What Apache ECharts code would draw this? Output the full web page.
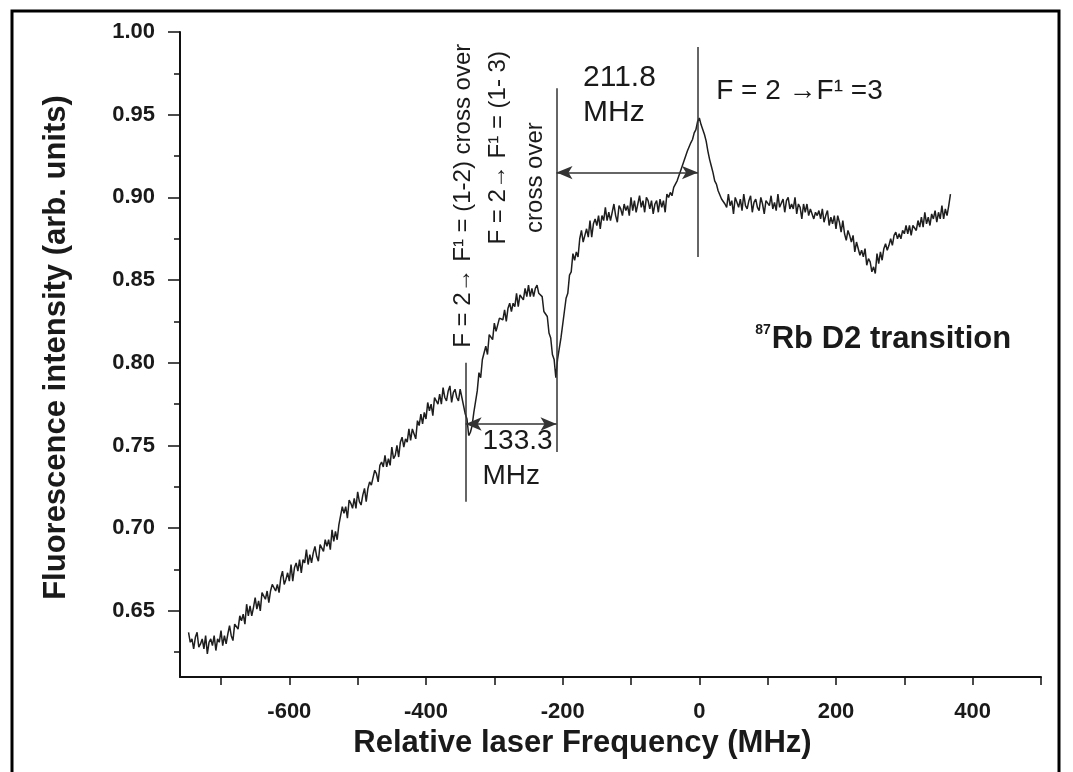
<!DOCTYPE html>
<html>
<head>
<meta charset="utf-8">
<script src="https://cdn.jsdelivr.net/npm/echarts@6/dist/echarts.min.js"></script>
<style>
  html, body { margin: 0; padding: 0; background: #fff; }
  #chart { width: 1073px; height: 772px; }
</style>
</head>
<body>
<div id="chart"></div>
<script>
// ---------- data (frequency MHz, fluorescence a.u.) ----------
const wingData = [
  [-747.5,0.637],[-745,0.631],[-742.5,0.633],[-740,0.627],[-737.5,0.634],[-735,0.637],[-732.5,0.628],[-730,0.630],
  [-727.5,0.633],[-725,0.627],[-722.5,0.635],[-720,0.624],[-717.5,0.631],[-715,0.633],[-712.5,0.629],[-710,0.635],
  [-707.5,0.626],[-705,0.633],[-702.5,0.631],[-700,0.638],[-697.5,0.629],[-695,0.635],[-692.5,0.630],[-690,0.636],
  [-687.5,0.641],[-685,0.635],[-682.5,0.632],[-680,0.642],[-677.5,0.641],[-675,0.639],[-672.5,0.647],[-670,0.644],
  [-667.5,0.648],[-665,0.642],[-662.5,0.654],[-660,0.647],[-657.5,0.653],[-655,0.647],[-652.5,0.652],[-650,0.658],
  [-647.5,0.651],[-645,0.656],[-642.5,0.650],[-640,0.661],[-637.5,0.660],[-635,0.657],[-632.5,0.662],[-630,0.655],
  [-627.5,0.662],[-625,0.666],[-622.5,0.667],[-620,0.662],[-617.5,0.666],[-615,0.661],[-612.5,0.670],[-610,0.674],
  [-607.5,0.666],[-605,0.669],[-602.5,0.673],[-600,0.668],[-597.5,0.678],[-595,0.668],[-592.5,0.676],[-590,0.679],
  [-587.5,0.674],[-585,0.681],[-582.5,0.673],[-580,0.681],[-577.5,0.679],[-575,0.687],[-572.5,0.678],[-570,0.684],
  [-567.5,0.679],[-565,0.685],[-562.5,0.689],[-560,0.683],[-557.5,0.680],[-555,0.690],[-552.5,0.689],[-550,0.686],
  [-547.5,0.693],[-545,0.689],[-542.5,0.693],[-540,0.687],[-537.5,0.699],[-535,0.692],[-532.5,0.698],[-530,0.693],
  [-527.5,0.702]
];
const riseData = [
  [-525,0.703],[-522.5,0.713],[-520,0.709],[-517.5,0.713],[-515,0.706],[-512.5,0.717],[-510,0.715],[-507.5,0.712],
  [-505,0.718],[-502.5,0.712],[-500,0.722],[-497.5,0.716],[-495,0.714],[-492.5,0.720],[-490,0.724],[-487.5,0.716],
  [-485,0.724],[-482.5,0.728],[-480,0.726],[-477.5,0.726],[-475,0.735],[-472.5,0.733],[-470,0.728],[-467.5,0.738],
  [-465,0.740],[-462.5,0.737],[-460,0.744],[-457.5,0.737],[-455,0.742],[-452.5,0.738],[-450,0.749],[-447.5,0.742],
  [-445,0.744],[-442.5,0.750],[-440,0.743],[-437.5,0.752],[-435,0.755],[-432.5,0.749],[-430,0.754],[-427.5,0.752],
  [-425,0.760],[-422.5,0.753],[-420,0.760],[-417.5,0.760],[-415,0.754],[-412.5,0.765],[-410,0.762],[-407.5,0.769],
  [-405,0.763],[-402.5,0.770],[-400,0.766],[-397.5,0.776],[-395,0.771],[-392.5,0.775],[-390,0.768],[-387.5,0.779],
  [-385,0.777],[-382.5,0.775],[-380,0.781],[-377.5,0.775],[-375,0.785],[-372.5,0.779],[-370,0.777],[-367.5,0.783],
  [-365,0.786],[-362.5,0.776],[-360,0.782],[-357.5,0.784],[-355,0.779],[-352.5,0.777],[-350,0.784],[-347.5,0.779]
];
const crossoverData = [
  [-345,0.778],[-342.5,0.769],[-340,0.766],[-337.5,0.756],[-335,0.758],[-332.5,0.762],[-330,0.770],[-327.5,0.771],
  [-325,0.783],[-322.5,0.794],[-320,0.791],[-317.5,0.802],[-315,0.801],[-312.5,0.810],[-310,0.805],[-307.5,0.817],
  [-305,0.816],[-302.5,0.814],[-300,0.824],[-297.5,0.819],[-295,0.818],[-292.5,0.827],[-290,0.826],[-287.5,0.826],
  [-285,0.832],[-282.5,0.825],[-280,0.833],[-277.5,0.836],[-275,0.831],[-272.5,0.836],[-270,0.834],[-267.5,0.842],
  [-265,0.834],[-262.5,0.841],[-260,0.841],[-257.5,0.838],[-255,0.845],[-252.5,0.840],[-250,0.847],[-247.5,0.840],
  [-245,0.845],[-242.5,0.840],[-240,0.845],[-237.5,0.847],[-235,0.842],[-232.5,0.841],[-230,0.840],[-227.5,0.831],
  [-225,0.832],[-222.5,0.828],[-220,0.818],[-217.5,0.815],[-215,0.805],[-212.5,0.802],[-210,0.791],[-207.5,0.802],
  [-205,0.803],[-202.5,0.815],[-200,0.816],[-197.5,0.831],[-195,0.839],[-192.5,0.842],[-190,0.853],[-187.5,0.855]
];
const plateauData = [
  [-185,0.866],[-182.5,0.862],[-180,0.867],[-177.5,0.864],[-175,0.875],[-172.5,0.880],[-170,0.873],[-167.5,0.877],
  [-165,0.881],[-162.5,0.876],[-160,0.886],[-157.5,0.876],[-155,0.884],[-152.5,0.887],[-150,0.883],[-147.5,0.889],
  [-145,0.881],[-142.5,0.889],[-140,0.886],[-137.5,0.894],[-135,0.886],[-132.5,0.891],[-130,0.886],[-127.5,0.891],
  [-125,0.896],[-122.5,0.889],[-120,0.885],[-117.5,0.895],[-115,0.893],[-112.5,0.889],[-110,0.896],[-107.5,0.892],
  [-105,0.895],[-102.5,0.889],[-100,0.900],[-97.5,0.892],[-95,0.898],[-92.5,0.891],[-90,0.896],[-87.5,0.901],
  [-85,0.894],[-82.5,0.898],[-80,0.891],[-77.5,0.900],[-75,0.898],[-72.5,0.893],[-70,0.898],[-67.5,0.890],
  [-65,0.896],[-62.5,0.898],[-60,0.891],[-57.5,0.899],[-55,0.894],[-52.5,0.898],[-50,0.891],[-47.5,0.902]
];
const peakData = [
  [-45,0.900],[-42.5,0.903],[-40,0.901],[-37.5,0.906],[-35,0.907],[-32.5,0.910],[-30,0.911],[-27.5,0.916],
  [-25,0.917],[-22.5,0.922],[-20,0.922],[-17.5,0.928],[-15,0.929],[-12.5,0.933],[-10,0.935],[-7.5,0.939],
  [-5,0.941],[-2.5,0.946],[0,0.948],[2.5,0.944],[5,0.941],[7.5,0.938],[10,0.934],[12.5,0.928],
  [15,0.923],[17.5,0.919],[20,0.915],[22.5,0.910],[25,0.908],[27.5,0.904],[30,0.904],[32.5,0.899],
  [35,0.900],[37.5,0.896]
];
const tailData = [
  [40,0.894],[42.5,0.902],[45,0.895],[47.5,0.898],[50,0.890],[52.5,0.900],[55,0.897],[57.5,0.894],
  [60,0.899],[62.5,0.892],[65,0.902],[67.5,0.895],[70,0.893],[72.5,0.898],[75,0.901],[77.5,0.891],
  [80,0.897],[82.5,0.899],[85,0.894],[87.5,0.892],[90,0.900],[92.5,0.896],[95,0.890],[97.5,0.898],
  [100,0.899],[102.5,0.895],[105,0.901],[107.5,0.893],[110,0.897],[112.5,0.892],[115,0.902],[117.5,0.894],
  [120,0.895],[122.5,0.899],[125,0.891],[127.5,0.898],[130,0.900],[132.5,0.893],[135,0.896],[137.5,0.893],
  [140,0.900],[142.5,0.890],[145,0.896],[147.5,0.894],[150,0.887],[152.5,0.896],[155,0.891],[157.5,0.896],
  [160,0.889],[162.5,0.893],[165,0.893],[167.5,0.887],[170,0.891],[172.5,0.889],[175,0.892],[177.5,0.887],
  [180,0.893],[182.5,0.885],[185,0.889],[187.5,0.892],[190,0.883],[192.5,0.888],[195,0.884],[197.5,0.889],
  [200,0.881],[202.5,0.889],[205,0.885],[207.5,0.879],[210,0.886],[212.5,0.878],[215,0.874],[217.5,0.880],
  [220,0.877],[222.5,0.873],[225,0.877],[227.5,0.867],[230,0.873],[232.5,0.872],[235,0.865],[237.5,0.868],
  [240,0.864],[242.5,0.869],[245,0.859],[247.5,0.863],[250,0.861],[252.5,0.855],[255,0.858],[257.5,0.854],
  [260,0.866],[262.5,0.860],[265,0.867],[267.5,0.862],[270,0.869],[272.5,0.872],[275,0.868],[277.5,0.871],
  [280,0.875],[282.5,0.871],[285,0.877],[287.5,0.879],[290,0.875],[292.5,0.878],[295,0.875],[297.5,0.880],
  [300,0.878],[302.5,0.883],[305,0.878],[307.5,0.883],[310,0.877],[312.5,0.883],[315,0.883],[317.5,0.880],
  [320,0.886],[322.5,0.882],[325,0.888],[327.5,0.882],[330,0.891],[332.5,0.884],[335,0.888],[337.5,0.883],
  [340,0.890],[342.5,0.887],[345,0.892],[347.5,0.885],[350,0.891],[352.5,0.887],[355,0.895],[357.5,0.887],
  [360,0.893],[362.5,0.889],[365,0.895],[367.5,0.902]
];

// axis ticks / labels
const xLabelValues = [-600, -400, -200, 0, 200, 400];
const xTickValues  = [-700, -600, -500, -400, -300, -200, -100, 0, 100, 200, 300, 400, 500];
const yLabelValues = [0.65, 0.70, 0.75, 0.80, 0.85, 0.90, 0.95, 1.00];
const yMinorValues = [0.625, 0.675, 0.725, 0.775, 0.825, 0.875, 0.925, 0.975];

// annotation positions (data coordinates)
const lineCrossover12 = -342;   // F=2 -> F'=(1-2) cross over
const lineCrossover13 = -209;   // F=2 -> F'=(1-3) cross over
const lineMainPeak    = -2;     // F=2 -> F'=3
const arrowWideY      = 0.915;  // 211.8 MHz arrow
const arrowNarrowY    = 0.763;  // 133.3 MHz arrow

const spectrum = [].concat(wingData, riseData, crossoverData, plateauData, peakData, tailData);

const FONT = "'Liberation Sans', Arial, Helvetica, sans-serif";
const INK = '#1a1a1a';

const chart = echarts.init(document.getElementById('chart'), null, { renderer: 'canvas' });

function txt(coord, text, opts) {
  return Object.assign({
    coord: coord,
    symbol: 'rect',
    symbolSize: 1,
    itemStyle: { color: 'rgba(0,0,0,0)' },
    label: Object.assign({
      show: true,
      formatter: text,
      color: INK,
      fontFamily: FONT,
      fontSize: 24,
      position: 'inside'
    }, opts || {})
  });
}

const option = {
  backgroundColor: '#ffffff',
  animation: false,
  grid: { left: 180, right: 32, top: 32, bottom: 95 },
  graphic: [{
    type: 'rect',
    shape: { x: 12, y: 11, width: 1047, height: 800 },
    style: { fill: 'none', stroke: '#000', lineWidth: 3 },
    silent: true
  }],
  xAxis: [{
    type: 'value',
    min: -760, max: 500,
    name: 'Relative laser Frequency (MHz)',
    nameLocation: 'middle',
    nameGap: 46,
    nameTextStyle: { fontFamily: FONT, fontWeight: 'bold', fontSize: 31, color: INK, padding: [0, 56, 0, 0] },
    axisLine: { show: true, onZero: false, lineStyle: { color: '#111', width: 2 } },
    axisTick: { show: true, inside: false, length: 8, customValues: xTickValues, lineStyle: { color: '#111', width: 1.5 } },
    axisLabel: { show: true, customValues: xLabelValues, margin: 24, fontFamily: FONT, fontWeight: 'bold', fontSize: 22, color: INK },
    splitLine: { show: false }
  }],
  yAxis: [{
    type: 'value',
    min: 0.61, max: 1.00,
    name: 'Fluorescence intensity (arb. units)',
    nameLocation: 'middle',
    nameGap: 108,
    nameTextStyle: { fontFamily: FONT, fontWeight: 'bold', fontSize: 31, color: INK, padding: [0, 0, 0, 14] },
    axisLine: { show: true, onZero: false, lineStyle: { color: '#111', width: 2 } },
    axisTick: { show: true, inside: false, length: 12, customValues: yLabelValues, lineStyle: { color: '#111', width: 1.5 } },
    axisLabel: { show: true, customValues: yLabelValues, margin: 25, fontFamily: FONT, fontWeight: 'bold', fontSize: 22, color: INK,
      formatter: v => v.toFixed(2) },
    splitLine: { show: false }
  }, {
    type: 'value',
    min: 0.61, max: 1.00,
    position: 'left',
    axisLine: { show: false, onZero: false },
    axisTick: { show: true, inside: false, length: 6, customValues: yMinorValues, lineStyle: { color: '#111', width: 1.5 } },
    axisLabel: { show: false },
    splitLine: { show: false }
  }],
  series: [{
    type: 'line',
    data: spectrum,
    showSymbol: false,
    symbol: 'none',
    lineStyle: { color: '#1e1e1e', width: 1.5 },
    clip: true,
    silent: true,
    markLine: {
      silent: true,
      animation: false,
      label: { show: false },
      emphasis: { disabled: true },
      lineStyle: { color: '#333', width: 1.5, type: 'solid' },
      symbol: ['none', 'none'],
      data: [
        [{ coord: [lineCrossover12, 0.716] }, { coord: [lineCrossover12, 0.800] }],
        [{ coord: [lineCrossover13, 0.746] }, { coord: [lineCrossover13, 0.966] }],
        [{ coord: [lineMainPeak, 0.864] }, { coord: [lineMainPeak, 0.991] }],
        [{ coord: [lineCrossover13, arrowWideY], symbol: 'arrow', symbolSize: [10, 16] },
         { coord: [lineMainPeak, arrowWideY], symbol: 'arrow', symbolSize: [10, 16] }],
        [{ coord: [lineCrossover12, arrowNarrowY], symbol: 'arrow', symbolSize: [10, 16] },
         { coord: [lineCrossover13, arrowNarrowY], symbol: 'arrow', symbolSize: [10, 16] }]
      ]
    },
    markPoint: {
      silent: true,
      animation: false,
      data: [
        txt([-171, 0.962], '211.8\nMHz', { position: 'right', distance: 0, fontSize: 30, lineHeight: 35, align: 'left' }),
        txt([24, 0.964], 'F = 2 \u2192F\u00B9 =3', { position: 'right', distance: 0, fontSize: 28 }),
        txt([-318, 0.742], '133.3\nMHz', { position: 'right', distance: 0, fontSize: 28, lineHeight: 35, align: 'left' }),
        txt([-346, 0.901], 'F = 2\u2192 F\u00B9 = (1-2) cross over', { rotate: 90, fontSize: 24 }),
        txt([-294, 0.930], 'F = 2\u2192 F\u00B9 = (1- 3)', { rotate: 90, fontSize: 24 }),
        txt([-240, 0.912], 'cross over', { rotate: 90, fontSize: 24 }),
        txt([269, 0.814], '{sup|87}{main|Rb D2 transition}', {
          fontWeight: 'bold',
          rich: {
            sup: { fontFamily: FONT, fontWeight: 'bold', fontSize: 14, color: INK, verticalAlign: 'top', lineHeight: 32, padding: [0, 1, 14, 0] },
            main: { fontFamily: FONT, fontWeight: 'bold', fontSize: 31, color: INK, lineHeight: 32 }
          }
        })
      ]
    }
  }]
};

chart.setOption(option);
</script>
</body>
</html>
